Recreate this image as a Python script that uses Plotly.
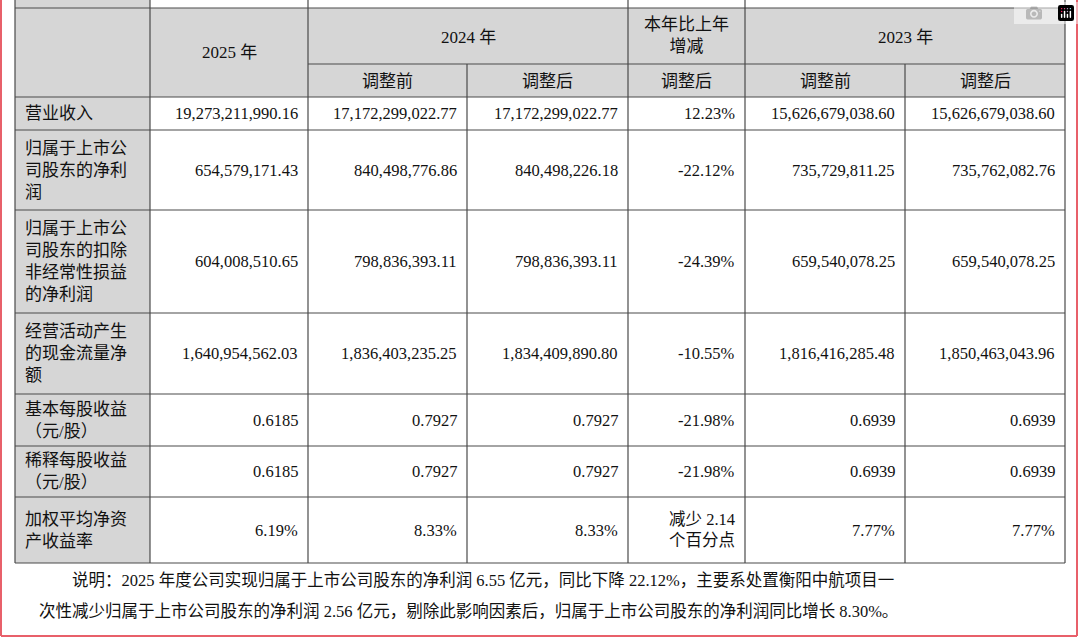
import plotly.graph_objects as go

# Data
row_labels = ["营业收入", "归属于上市公<br>司股东的净利<br>润", "归属于上市公<br>司股东的扣除<br>非经常性损益<br>的净利润",
              "经营活动产生<br>的现金流量净<br>额", "基本每股收益<br>（元/股）", "稀释每股收益<br>（元/股）", "加权平均净资<br>产收益率"]
v2025 = ["19,273,211,990.16", "654,579,171.43", "604,008,510.65", "1,640,954,562.03", "0.6185", "0.6185", "6.19%"]
v2024_before = ["17,172,299,022.77", "840,498,776.86", "798,836,393.11", "1,836,403,235.25", "0.7927", "0.7927", "8.33%"]
v2024_after = ["17,172,299,022.77", "840,498,226.18", "798,836,393.11", "1,834,409,890.80", "0.7927", "0.7927", "8.33%"]
v_change = ["12.23%", "-22.12%", "-24.39%", "-10.55%", "-21.98%", "-21.98%", "减少 2.14<br>个百分点"]
v2023_before = ["15,626,679,038.60", "735,729,811.25", "659,540,078.25", "1,816,416,285.48", "0.6939", "0.6939", "7.77%"]
v2023_after = ["15,626,679,038.60", "735,762,082.76", "659,540,078.25", "1,850,463,043.96", "0.6939", "0.6939", "7.77%"]
note_lines = ["说明：2025 年度公司实现归属于上市公司股东的净利润 6.55 亿元，同比下降 22.12%，主要系处置衡阳中航项目一",
              "次性减少归属于上市公司股东的净利润 2.56 亿元，剔除此影响因素后，归属于上市公司股东的净利润同比增长 8.30%。"]

# Layout geometry (pixels)
xs = [15, 150, 308, 467, 628, 745, 905, 1065]
ys = [97, 130, 210, 313, 394, 446, 497, 563]
FONT = "Liberation Serif, Noto Sans CJK SC"
GRAY = "#d6d6d6"
LINE = "#4a4a4a"

fig = go.Figure()
shapes = []
ann = []

def rect(x0, y0, x1, y1, fill):
    shapes.append(dict(type="rect", x0=x0, x1=x1, y0=y0, y1=y1, fillcolor=fill, line=dict(width=0), layer="below"))

def line(x0, y0, x1, y1, color=LINE, w=1.2):
    shapes.append(dict(type="line", x0=x0, x1=x1, y0=y0, y1=y1, line=dict(color=color, width=w)))

def text(x, y, s, anchor="center", size=16.5):
    ann.append(dict(x=x, y=y, text=s, showarrow=False, xanchor=anchor, yanchor="middle",
                    font=dict(family=FONT, size=size, color="#111"), align=anchor if anchor != "center" else "center"))

# fills
rect(xs[0], -2, xs[1], 8, GRAY)
rect(xs[0], 8, xs[-1], ys[0], GRAY)
rect(xs[0], ys[0], xs[1], ys[-1], GRAY)

# horizontal lines
line(xs[0], 8, xs[-1], 8)
line(xs[2], 64, xs[-1], 64)
for y in ys:
    line(xs[0], y, xs[-1], y)
# vertical lines
for i, x in enumerate(xs):
    y0 = -2
    if i in (3, 6):
        y0 = 64
    line(x, y0, x, ys[-1])

# headers
text((xs[1] + xs[2]) / 2, 52, "2025 年", size=17)
text((xs[2] + xs[4]) / 2, 37, "2024 年", size=17)
text((xs[4] + xs[5]) / 2, 35, "本年比上年<br>增减", size=17)
text((xs[5] + xs[7]) / 2, 37, "2023 年", size=17)
for i, s in enumerate(["调整前", "调整后", "调整后", "调整前", "调整后"]):
    text((xs[i + 2] + xs[i + 3]) / 2, 81, s, size=17)

cols = [v2025, v2024_before, v2024_after, v_change, v2023_before, v2023_after]
for r in range(len(row_labels)):
    yc = (ys[r] + ys[r + 1]) / 2
    text(xs[0] + 8, yc, row_labels[r], anchor="left", size=17)
    for c, vals in enumerate(cols):
        text(xs[c + 2] - 8, yc, vals[r], anchor="right")

text(70, 580, note_lines[0], anchor="left", size=16.5)
text(37, 611, note_lines[1], anchor="left", size=16.5)

# red frame
line(1, -2, 1, 636, color="#e8606a", w=2)
line(1077, -2, 1077, 636, color="#e8606a", w=2)
line(1, 636, 1077, 636, color="#e8606a", w=2)

fig.update_layout(
    width=1080, height=638,
    margin=dict(l=0, r=0, t=0, b=0),
    plot_bgcolor="white", paper_bgcolor="white",
    xaxis=dict(range=[0, 1080], visible=False, fixedrange=True),
    yaxis=dict(range=[638, 0], visible=False, fixedrange=True),
    shapes=shapes, annotations=ann, showlegend=False,
)

fig.write_html("out.html")

# drop the default page margin so the figure sits at the window corner
with open("out.html", encoding="utf-8") as f:
    page = f.read()
page = page.replace("<body>", '<body style="margin:0;overflow:hidden">', 1)
with open("out.html", "w", encoding="utf-8") as f:
    f.write(page)
